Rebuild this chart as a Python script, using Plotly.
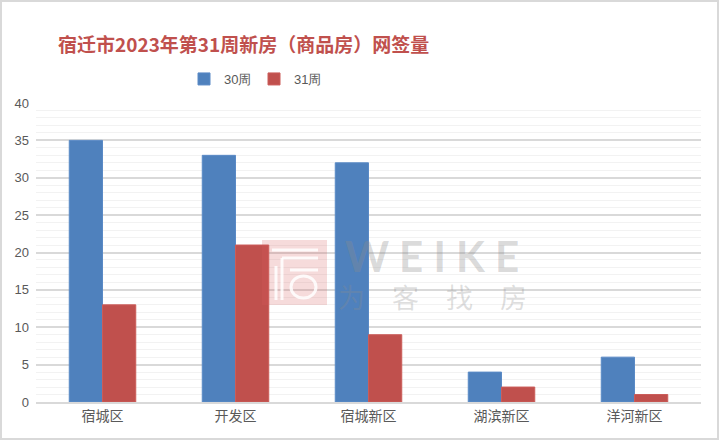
import plotly.graph_objects as go

categories = ["宿城区", "开发区", "宿城新区", "湖滨新区", "洋河新区"]
week30 = [35, 33, 32, 4, 6]
week31 = [13, 21, 9, 2, 1]
series_names = ["30周", "31周"]
title_text = "宿迁市2023年第31周新房（商品房）网签量"

W, H = 720, 441
ML, MR, MT, MB = 36, 19, 103, 39
PW, PH = W - ML - MR, H - MT - MB

def px_x(px):
    return (px - ML) / PW

def px_y(py):
    return (H - MB - py) / PH

fig = go.Figure()
fig.add_trace(go.Bar(x=categories, y=week30, name=series_names[0],
                     marker=dict(color="#4F81BD", line=dict(color="#5A8AC6", width=1))))
fig.add_trace(go.Bar(x=categories, y=week31, name=series_names[1],
                     marker=dict(color="#C0504D", line=dict(color="#CB5C59", width=1))))

shapes = [
    # outer border
    dict(type="rect", xref="paper", yref="paper",
         x0=px_x(1), x1=px_x(W - 2), y0=px_y(H - 2), y1=px_y(1),
         line=dict(color="#D9D9D9", width=2), fillcolor="rgba(0,0,0,0)", layer="below"),
    # watermark square
    dict(type="rect", xref="paper", yref="paper",
         x0=px_x(262), x1=px_x(327), y0=px_y(305), y1=px_y(240),
         line=dict(width=0), fillcolor="rgba(214,90,90,0.22)", layer="above"),
]
logo_lines = [
    (272, 250, 318, 250), (282, 258, 318, 258), (282, 258, 282, 300),
    (276, 266, 276, 300), (290, 270, 318, 270),
]
for x0, y0, x1, y1 in logo_lines:
    shapes.append(dict(type="line", xref="paper", yref="paper",
                       x0=px_x(x0), x1=px_x(x1), y0=px_y(y0), y1=px_y(y1),
                       line=dict(color="rgba(255,255,255,0.85)", width=3), layer="above"))
shapes.append(dict(type="circle", xref="paper", yref="paper",
                   x0=px_x(291), x1=px_x(316), y0=px_y(298), y1=px_y(276),
                   line=dict(color="rgba(255,255,255,0.85)", width=3), layer="above"))

annotations = [
    dict(text="<b>W E I K E</b>", xref="paper", yref="paper", x=px_x(432), y=px_y(256),
         showarrow=False, font=dict(family="Lato, DejaVu Sans", size=42, color="rgba(140,140,140,0.33)"),
         xanchor="center", yanchor="middle"),
    dict(text="为\u2003客\u2003找\u2003房", xref="paper", yref="paper", x=px_x(432), y=px_y(296),
         showarrow=False, font=dict(family="Noto Sans CJK SC", size=27, color="rgba(140,140,140,0.28)"),
         xanchor="center", yanchor="middle"),
]

fig.update_layout(
    width=W, height=H,
    margin=dict(l=ML, r=MR, t=MT, b=MB, autoexpand=False),
    paper_bgcolor="white", plot_bgcolor="white",
    barmode="group", bargap=0.5, bargroupgap=0,
    title=dict(text="<b>" + title_text + "</b>", x=58 / W, xanchor="left",
               y=1 - 45 / H, yanchor="middle",
               font=dict(family="Noto Sans CJK SC", size=19, color="#C0504D")),
    legend=dict(orientation="h", x=254 / W, xref="container", xanchor="center",
                y=1 - 79 / H, yref="container", yanchor="middle",
                font=dict(family="Liberation Sans Narrow, Liberation Sans", size=13, color="#595959"),
                itemwidth=30, entrywidth=25, tracegroupgap=0),
    showlegend=True,
    shapes=shapes,
    annotations=annotations,
    xaxis=dict(showgrid=False, showline=True, linecolor="#D9D9D9", linewidth=1.5,
               ticks="", tickfont=dict(family="Noto Sans CJK SC", size=14, color="#595959")),
    yaxis=dict(range=[0, 40], dtick=5, showgrid=True, gridcolor="#D9D9D9", gridwidth=1.5,
               zeroline=False, showline=False, ticks="",
               tickfont=dict(family="Liberation Sans", size=13, color="#595959"),
               ticklabelstandoff=6,
               minor=dict(dtick=1, showgrid=True, gridcolor="#F2F2F2", gridwidth=1)),
)

fig.write_html("out.html", config={"displayModeBar": False},
               post_script="document.body.style.margin='0';document.body.style.overflow='hidden';")
